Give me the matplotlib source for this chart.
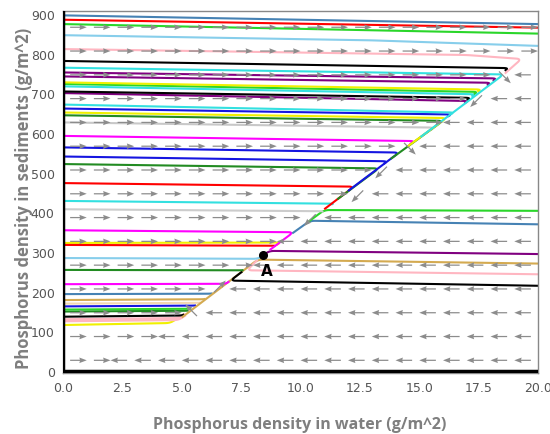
import matplotlib
matplotlib.use('Agg')
import matplotlib.pyplot as plt
import numpy as np

# trajectories in (water, sediments), drawn in this order
traj_colors = [
    '#f0f000', '#ffb6c1', 'black', 'forestgreen', '#2ad62a', '#1515e0', '#f2d8b0', '#d4aa50',
    'steelblue', '#d4aa50', '#ff00ff', 'black', 'forestgreen', '#ffb6c1', 'skyblue', 'purple',
    '#f0f000', 'red', '#ff00ff', 'steelblue', '#2ad62a', '#cccccc', '#33e0e0', 'red',
    'forestgreen', '#1515e0', '#1515e0', '#ff00ff', '#c8c8c8', 'forestgreen', '#f0f000', '#1515e0',
    '#33e0e0', 'purple', 'black', '#33e0e0', '#2ad62a', '#f0f000', 'purple', 'purple',
    '#33e0e0', 'black', '#ffb6c1', 'skyblue', '#2ad62a', 'red', 'steelblue',
]
traj_widths = [1.5] * len(traj_colors)
traj_widths[1] = 3.0

traj_x = [
    [0, 4.5, 4.75], [0, 4.85, 5.15], [0, 5.0, 5.1], [0, 5.25, 5.3], [0, 5.35, 5.4],
    [0, 5.55, 5.6], [0, 5.75, 5.8], [0, 5.9, 6.0], [0, 6.2, 6.3], [20, 8.2, 5.0],
    [0, 6.85, 7.0], [20, 7.05, 7.55], [0, 7.55, 7.6], [20, 7.75, 8.2], [0, 8.2, 8.4],
    [20, 8.7, 8.45], [0, 9.15, 9.0], [0, 8.95], [0, 9.7, 8.7], [20, 10.4, 9.65],
    [20, 11.0, 10.3], [0, 10.95, 10.9], [0, 11.4, 11.3], [0, 12.25, 11.0], [0, 13.3, 11.55],
    [0, 13.65, 13.5], [0, 14.15, 12.0], [0, 14.8, 14.6], [0, 15.6, 15.5], [0, 16.0, 13.8],
    [0, 16.15, 14.5], [0, 16.35, 16.2], [0, 16.45, 16.3], [0, 17.05, 16.9], [0, 17.15, 17.0],
    [0, 17.35, 17.2], [0, 17.45, 17.3], [0, 17.6, 17.45], [0, 18.0, 17.85], [0, 18.25, 18.1],
    [0, 18.55, 15.05], [0, 18.75, 18.6], [0, 17.0, 19.3, 18.6], [0, 13.0, 20], [0, 20],
    [0, 20], [0, 20],
]
traj_y = [
    [116, 121, 130], [128, 131, 143], [137, 140, 143], [150, 152, 153], [155, 157, 158],
    [163, 165, 166], [170, 172, 173], [179, 181, 182], [194, 195, 196], [271, 281, 135],
    [219, 220, 226], [215, 228, 251], [255, 254, 255], [244, 254, 281], [285, 283, 291],
    [295, 303, 293], [323, 324, 318], [318, 316], [355, 350, 305], [370, 379, 347],
    [404, 406, 375], [408, 403, 401], [429, 422, 420], [474, 465, 408], [522, 511, 433],
    [541, 529, 522], [564, 551, 454], [593, 580, 572], [627, 614, 608], [645, 631, 535],
    [652, 638, 566], [662, 647, 642], [672, 652, 647], [701, 681, 675], [705, 689, 683],
    [718, 698, 692], [724, 704, 698], [728, 710, 704], [743, 727, 720], [753, 738, 731],
    [765, 748, 590], [782, 764, 757], [812, 797, 787, 750], [847, 834, 820], [875, 851],
    [886, 866], [897, 875],
]

# direction field: rows of arrows and where they flip from right to left
arrow_rows = [27, 87, 147, 207, 267, 327, 387, 447, 507, 567, 627, 687, 747, 807, 867]
row_switch = [2.0, 4.0, 5.3, 6.6, 8.0, 9.0, 10.5, 12.4, 13.5, 14.6, 16.0, 17.5, 18.6, 99, 99]
arrow_cols = np.arange(0.5, 20, 1.0)

point_a = (8.4, 292)

fig = plt.figure(figsize=(5.5, 4.35), dpi=100)
ax = fig.add_axes([63 / 550, 1 - 374 / 435, 475 / 550, 362 / 435])
ax.set_xlim(0, 20)
ax.set_ylim(-5, 908)


def rounded(xs, ys, r=5.0):
    # round the corners of a polyline (in pixel space)
    pts = ax.transData.transform(np.column_stack([xs, ys]).astype(float))
    out = [pts[0]]
    for i in range(1, len(pts) - 1):
        a, b, c = pts[i - 1], pts[i], pts[i + 1]
        la, lc = np.linalg.norm(a - b), np.linalg.norm(c - b)
        p = b + (a - b) / la * min(r, la / 2)
        q = b + (c - b) / lc * min(r, lc / 2)
        t = np.linspace(0, 1, 15)[:, None]
        out.extend((1 - t) ** 2 * p + 2 * (1 - t) * t * b + t ** 2 * q)
    out.append(pts[-1])
    return ax.transData.inverted().transform(np.array(out))


for col, lw, xs, ys in zip(traj_colors, traj_widths, traj_x, traj_y):
    xy = rounded(xs, ys)
    ax.plot(xy[:, 0], xy[:, 1], color=col, lw=lw, solid_capstyle='butt', zorder=2)

# arrows are 0.7 water-units long; the ones sitting on the nullcline tilt 45 deg
y_per_x = (908 + 5) / 362 * 475 / 20
qx, qy, qu, qv = [], [], [], []
for y, s in zip(arrow_rows, row_switch):
    for g in arrow_cols:
        d = 1 if g < s else -1
        if abs(g - s) < 0.3:
            u = 0.7 * d / np.sqrt(2)
            v = u * d * y_per_x * (-1 if y > point_a[1] else 1)
        else:
            u, v = 0.7 * d, 0.0
        qx.append(g - 2 / 7 * u)
        qy.append(y - 2 / 7 * v)
        qu.append(u)
        qv.append(v)
ax.quiver(qx, qy, qu, qv, angles='xy', scale_units='xy', scale=1,
          color='#8c8c8c', width=0.0026, headwidth=4.5, headlength=6.0,
          headaxislength=5.5, zorder=3)

ax.axvline(0, color='black', lw=2.5, zorder=4)
ax.axhline(0, color='black', lw=2.5, zorder=4)

ax.plot(*point_a, 'o', color='black', ms=5.5, zorder=5)
ax.text(point_a[0] + 0.2, point_a[1] - 38, 'A', fontsize=11, fontweight='bold',
        ha='center', va='center', zorder=5)

ax.set_xticks(np.arange(0, 20.1, 2.5))
ax.set_xticklabels([f'{v:.1f}' for v in np.arange(0, 20.1, 2.5)])
ax.set_yticks(np.arange(0, 901, 100))
ax.tick_params(length=0, labelsize=9, colors='#555555', pad=6)
for sp in ax.spines.values():
    sp.set_color('#888888')
    sp.set_linewidth(1.0)

fig.text(300 / 550, 1 - 425 / 435, 'Phosphorus density in water (g/m^2)',
         fontsize=11.5, fontweight='bold', color='#7f7f7f', family='Open Sans',
         ha='center', va='center')
fig.text(24 / 550, 1 - 198 / 435, 'Phosphorus density in sediments (g/m^2)',
         fontsize=12, fontweight='bold', color='#7f7f7f', family='Open Sans',
         ha='center', va='center', rotation=90)

fig.savefig('out.png', dpi=100)
